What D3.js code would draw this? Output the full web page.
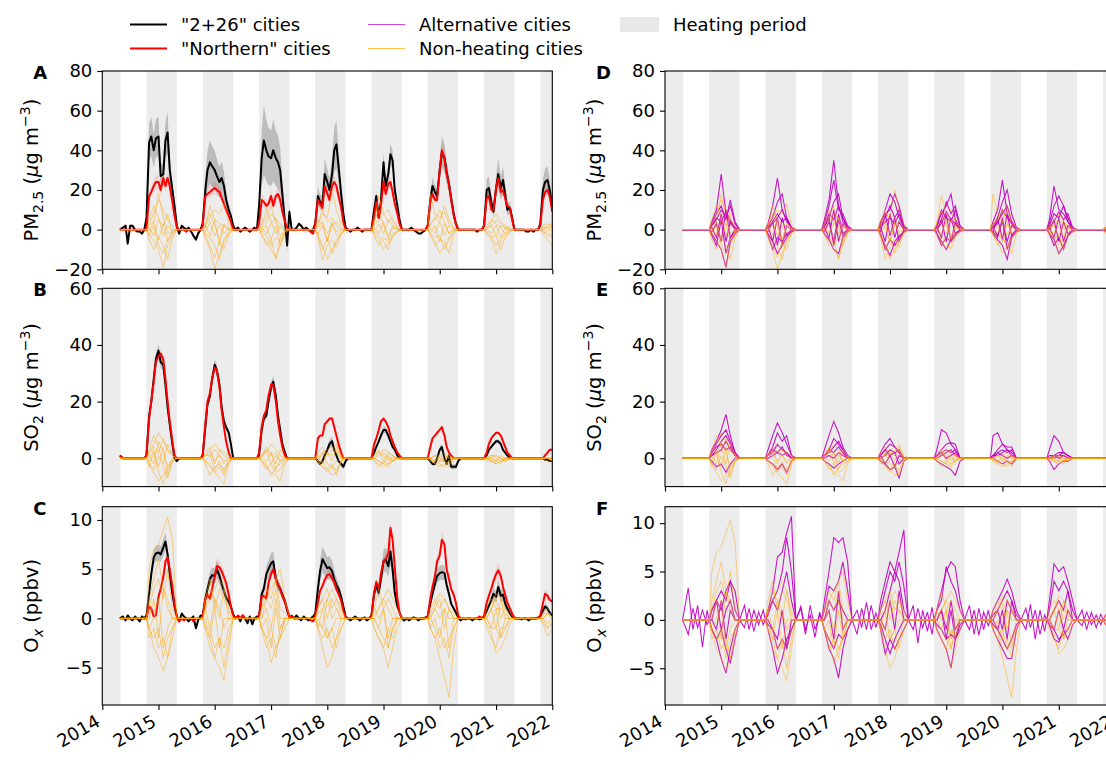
<!DOCTYPE html>
<html>
<head>
<meta charset="utf-8">
<script src="https://cdn.jsdelivr.net/npm/d3@7"></script>
<style>
  body { margin: 0; background: #fff; }
  svg { display: block; font-family: "DejaVu Sans", sans-serif; }
</style>
</head>
<body>
<svg id="chart" width="1106" height="760"></svg>
<script>
// ---- sampling grids (month-day) ----
// main series: each yearly row = off-season values then heating-season values
const OFF_MAIN = ["05-15","06-01","06-15","07-01","07-15","08-01","08-15","09-01","09-15","10-01"];
const SEASON_MAIN = ["10-15","11-01","11-15","12-01","12-15","01-01","01-15","02-01","02-15","03-01","03-15","04-01","04-15","04-30"];
// thin city lines: monthly values inside each heating season
const THIN_MD = ["11-01","12-01","01-01","02-01","03-01","04-01"];
const OFF_THIN = ["06-01","07-01","08-01","09-01","10-01"];
const yearTicks = [2014, 2015, 2016, 2017, 2018, 2019, 2020, 2021, 2022];
const heatYears = [2013, 2014, 2015, 2016, 2017, 2018, 2019, 2020, 2021];

// ---- "2+26" (black) and "Northern" (red) series, rows = 2014..2021 ----
const pm25Black = [
  [0, 1, 2, -7, 2, 2, 0, -1, -1, -2, 0,   6, 44, 47, 40, 46, 47, 27, 28, 45, 49, 30, 20, 12, 2],
  [-2, 2, 1, 0, 1, -1, -3, -5, -2, 0,     3, 20, 30, 34, 32, 30, 27, 24, 26, 22, 15, 10, 7, 2],
  [0, 1, -1, 0, 1, 0, -1, 0, 1, 0,        12, 36, 45, 40, 37, 36, 40, 36, 34, 30, 18, 4, -8, 9],
  [0, 0, 1, 3, 2, 0, 1, 0, -1, 0,         3, 17, 14, 13, 28, 24, 20, 28, 40, 43, 32, 18, 8, 1],
  [0, -1, 0, 0, 1, 0, -1, 0, 0, 0,        0, 10, 17, 6, 14, 34, 22, 28, 38, 35, 20, 12, 5, 0],
  [0, 0, 0, 1, 0, -1, -2, -2, -1, 0,      2, 15, 22, 19, 17, 30, 39, 36, 29, 23, 16, 8, 3, 0],
  [0, 0, 0, 0, 0, 0, 0, -1, 0, 0,         2, 20, 21, 14, 9, 21, 28, 21, 25, 18, 10, 11, 6, 0],
  [0, 0, 0, 0, -1, -1, 0, -1, 0, 0,       3, 20, 24, 25, 20, 12]
];
const pm25Red = [
  [0, 0, 0, 0, 0, 0, 0, 0, 0, 0, 0,       0, 17, 19, 22, 24, 24, 20, 26, 22, 26, 22, 14, 7, 1],
  [0, 0, 0, -1, 0, 0, 0, 0, 0, 0,         2, 17, 18, 19, 20, 21, 20, 19, 16, 13, 10, 7, 4, 0],
  [0, 0, 0, 0, 0, 0, 0, 0, 0, 0,          3, 15, 14, 12, 13, 17, 12, 17, 18, 15, 9, 4, 1, 0],
  [0, 0, 0, 0, 0, 0, 0, 0, -1, -2,        3, 15, 13, 11, 22, 18, 15, 22, 24, 22, 17, 11, 4, 0],
  [0, 0, 0, 0, 0, 0, 0, 0, 0, 0,          0, 7, 14, 6, 12, 24, 18, 23, 24, 19, 13, 8, 3, 0],
  [0, 0, 0, 0, 0, 0, 0, 0, 0, 0,          2, 14, 18, 15, 15, 30, 40, 36, 28, 23, 15, 7, 3, 0],
  [0, 0, 0, 0, 0, 0, 0, 0, 0, 0,          2, 16, 17, 10, 10, 21, 26, 19, 20, 16, 12, 11, 5, 0],
  [0, 0, 0, 0, 0, 0, 0, 0, 0, 0,          2, 15, 19, 20, 17, 9]
];
const so2Black = [
  [1, 0, 0, 0, 0, 0, 0, 0, 0, 0, 0,       1, 15, 20, 28, 35, 38, 34, 33, 26, 18, 12, 5, 0, -1],
  [0, 0, 0, 0, 0, 0, 0, 0, 0, 0,          1, 11, 19, 22, 28, 33, 31, 26, 18, 13, 11, 9, 5, 0],
  [0, 0, 0, 0, 0, 0, 0, 0, 0, 0,          1, 10, 14, 15, 20, 25, 27, 22, 15, 10, 5, 2, 0, 0],
  [0, 0, 0, 0, 0, 0, 0, 0, 0, 0,          0, -1, -2, -1, 1, 3, 5, 6, 3, 1, -1, -2, -3, -1],
  [0, 0, 0, 0, 0, 0, 0, 0, 0, 0,          0, 2, 4, 6, 8, 10, 10, 8, 6, 4, 3, 1, 0, 0],
  [0, 0, 0, 0, 0, 0, 0, 0, 0, 0,          0, -1, -2, -2, 0, 3, 4, 0, -2, 1, -3, -3, -3, -1],
  [0, 0, 0, 0, 0, 0, 0, 0, 0, 0,          0, 1, 3, 4, 5, 6, 6, 5, 3, 2, 1, 0, 0, 0],
  [0, 0, 0, 0, 0, 0, 0, 0, 0, 0,          0, 0, -0.5, -0.5, -1, -1]
];
const so2Red = [
  [1, 0, 0, 0, 0, 0, 0, 0, 0, 0, 0,       1, 14, 20, 27, 34, 36, 37, 35, 28, 20, 13, 6, 1, 0],
  [0, 0, 0, 0, 0, 0, 0, 0, 0, 0,          1, 12, 20, 23, 28, 32, 31, 25, 17, 11, 6, 2, 0, 0],
  [0, 0, 0, 0, 0, 0, 0, 0, 0, 0,          2, 11, 15, 17, 22, 26, 26, 20, 13, 8, 4, 1, 0, 0],
  [0, 0, 0, 0, 0, 0, 0, 0, 0, 0,          0, 7, 8, 8, 12, 13, 14, 14, 11, 8, 5, 2, 0, 0],
  [0, 0, 0, 0, 0, 0, 0, 0, 0, 0,          0, 5, 7, 10, 13, 14, 13, 11, 8, 6, 4, 2, 1, 0],
  [0, 0, 0, 0, 0, 0, 0, 0, 0, 0,          0, 4, 7, 8, 9, 10, 11, 8, 4, 2, 1, 0, 0, 0],
  [0, 0, 0, 0, 0, 0, 0, 0, 0, 0,          0, 2, 5, 7, 8, 9, 9, 8, 6, 4, 2, 1, 0, 0],
  [0, 0, 0, 0, 0, 0, 0, 0, 0, 0,          0, 0, 1, 2, 3, 3]
];
const oxBlack = [
  [0, 0.2, -0.2, 0.3, 0, -0.2, 0.2, 0, -0.3, 0.2, 0,  0.3, 2.5, 4.5, 6.2, 6.6, 6.7, 6.5, 7.2, 7.8, 6.5, 4.5, 2.5, 1.2, 0.2],
  [-0.3, 0.5, 0.2, 0, -0.3, 0, 0.2, -1, -0.2, 0.3,    0.3, 2, 3, 4, 4.4, 4.3, 5, 4.3, 3.5, 2.8, 2.1, 1.7, 1.2, 0.4],
  [0, 0.2, -0.3, 0.3, 0, -0.5, 0.2, -0.6, 0, 0.2,     0.2, 2.5, 3, 4.5, 5, 5.6, 5.8, 4, 3.4, 3, 2.4, 1.8, 0.8, 0.1],
  [0.2, 0, 0.3, 0, -0.2, 0.2, 0, -0.2, 0, 0.2,        0.5, 3, 4.8, 6, 5.6, 5.1, 5.2, 4.8, 4, 3.4, 3, 2.2, 1.2, 0.2],
  [0, -0.2, 0, 0.2, 0, -0.2, 0, 0.1, -0.2, 0,         0.3, 2.5, 3.4, 2.6, 4, 5.8, 6, 5.3, 6.8, 5, 2.6, 1.2, 0.6, 0],
  [-0.2, 0, -0.2, 0, 0.1, 0, -0.2, 0, 0, 0.1,         0.2, 1.5, 2.5, 3.5, 4.3, 4.6, 4.7, 4.6, 3.4, 2.5, 1.5, 1, 0.6, 0.1],
  [-0.2, 0, -0.1, 0, 0, -0.2, 0, 0, -0.1, 0,          0.1, 0.8, 1.3, 1.9, 2.5, 2.2, 3.2, 2.3, 2.4, 1.5, 1, 0.5, 0.2, 0],
  [0, 0, -0.1, 0, 0, -0.2, 0, 0, 0, 0.1,              0.2, 0.8, 1.2, 1, 0.6, 0.3]
];
const oxRed = [
  [0, 0, 0, 0, 0, 0, 0, 0, 0, 0, 0,                   0, 1.2, 1, 0.2, 0.3, 2.2, 3, 4.2, 5.8, 6.2, 5, 3.2, 1.5, 0.2],
  [-0.3, 0, -0.2, 0, 0, 0, -0.3, 0, 0, 0,             0.2, 2, 2.4, 2, 3, 4.3, 5.3, 5.2, 4.8, 4.2, 3.6, 2.4, 1.2, 0.3],
  [0, 0.3, 0, 0.3, 0, 0, 0, 0, 0, 0,                  0.2, 2.2, 2.3, 2, 3.6, 4.5, 5, 4, 3.4, 3, 2.3, 1.6, 1, 0.1],
  [0.3, 0, 0, 0, 0, 0, 0, 0, -0.2, -0.3,              0.3, 1.6, 2.8, 3.3, 3.9, 4.4, 4.5, 4.1, 3.7, 3, 2.5, 1.8, 0.8, 0.1],
  [0, 0, 0, 0, 0, 0, 0, 0, 0, 0,                      0.3, 2.6, 3.7, 3, 4.5, 5.8, 6, 6.6, 9.2, 8, 5.2, 2, 0.6, 0],
  [0, 0, 0, 0, 0, 0, 0, 0, 0, 0,                      0.2, 2, 3.2, 4.3, 5.8, 6.4, 8, 7.5, 5, 4, 3, 2.4, 1.6, 0.3],
  [0, 0, 0, 0, 0, 0, 0, 0, 0.2, 0,                    0.3, 1.6, 2.3, 3, 3.8, 4.5, 4.9, 4.3, 3.2, 2.4, 1.6, 1, 0.5, 0.1],
  [0, 0, 0, 0, 0, 0, 0, 0, 0, 0,                      0.3, 1.5, 2.5, 2.3, 1.9, 1.7]
];
// relative half-width of the shaded ranges, per season (2014..2021)
const pmBlackSpread = [0.21, 0.32, 0.39, 0.28, 0.14, 0.2, 0.28, 0.28];
const pmRedSpread = [0.15, 0.15, 0.2, 0.15, 0.12, 0.1, 0.12, 0.12];
const so2BlackSpread = [0.06, 0.06, 0.08, 0.3, 0.12, 0.3, 0.12, 0.2];
const so2RedSpread = [0.04, 0.04, 0.04, 0.05, 0.05, 0.05, 0.05, 0.05];
const oxBlackSpread = [0.12, 0.18, 0.18, 0.22, 0.2, 0.16, 0.25, 0.3];
const oxRedSpread = [0.1, 0.15, 0.12, 0.12, 0.07, 0.1, 0.15, 0.2];

// ---- non-heating cities (orange), one list of seasons per city ----
const orangePM = [
  [[3, 8, 15, 10, 5, 2], [2, 6, 10, 8, 13, 3], [1, 4, 8, 5, 3, 1], [2, 8, 6, 20, 10, 3], [3, 17, 8, 10, 4, 1], [18, 8, 6, 9, 3, 1], [1, 4, 8, 4, 2, 1], [1, 2, 3]],
  [[-2, -6, -10, -19, -8, -3], [-4, -10, -20, -12, -6, -2], [-3, -6, -10, -14, -8, -2], [-2, -8, -15, -10, -5, -2], [-2, -5, -10, -7, -4, -1], [-3, -6, -12, -8, -4, -1], [-2, -5, -12, -6, -3, -1], [-2, -5, -8]],
  [[5, 12, 6, -3, 2, 0], [3, 8, 2, -5, 3, 1], [2, 10, 4, -2, 2, 0], [5, 3, -6, 2, 4, 1], [4, 10, 2, -3, 1, 0], [3, 5, 10, 4, -2, 0], [2, 5, 3, 1, -2, 0], [2, 3, 1]],
  [[-3, 2, -8, -12, -5, -1], [-2, -4, -8, -15, -5, -1], [-1, -3, -8, -4, -6, -1], [-3, -10, -4, -12, -6, -2], [-1, -3, -6, -10, -3, -1], [-2, -4, -3, -10, -5, -1], [-1, -3, -8, -4, -2, 0], [-1, -3, -4]],
  [[2, 4, 18, 6, -2, 0], [1, 12, 5, 3, 2, 0], [3, 6, 12, 3, 1, 0], [3, 10, 4, 6, 2, 0], [2, 5, 8, 4, 6, 1], [2, 6, 4, 12, 5, 1], [1, 2, 5, 3, 1, 0], [1, 1, 2]],
  [[-5, -10, -4, -8, -15, -4], [-3, -8, -14, -6, -10, -2], [-2, -8, -5, -15, -4, -1], [-4, -15, -8, -5, -9, -2], [-3, -8, -4, -6, -2, -1], [-2, -8, -5, -6, -12, -2], [-2, -4, -3, -10, -4, -1], [-1, -2, -3]],
  [[1, -3, 5, 2, 8, -2], [-1, 4, -3, 2, -2, 1], [1, -2, 3, 6, -3, 0], [1, 4, -2, 3, -1, 0], [-1, 3, -2, 5, 2, 0], [1, -2, 4, -3, 2, 0], [0, 2, -3, 2, 1, 0], [0, 1, -1]],
  [[-1, 4, -5, 3, -6, -1], [2, -3, 5, -8, 2, 0], [-1, 2, -5, 2, -8, -1], [-2, 2, -6, 4, -3, -1], [1, -2, 4, -5, 2, 0], [-1, 2, -6, 3, -2, 0], [0, -2, 2, -4, 1, 0], [0, -1, 1]]
];
const orangeSO2 = [
  [[2, 5, 9, 6, 3, 1], [1, 3, 5, 3, 2, 1], [1, 2, 5, 3, 1, 0], [1, 2, 3, 4, 2, 0], [1, 2, 3, 2, 1, 0], [0, 1, 1, 0, 1, 0], [0, 1, 1, 0, 0, 0], [0, 0, 0]],
  [[-2, -5, -8, -6, -3, -1], [-1, -3, -5, -7, -9, -2], [-1, -3, -5, -6, -8, -2], [-1, -3, -4, -6, -5, -1], [-1, -2, -3, -2, -1, 0], [-1, -2, -3, -2, -1, 0], [-1, -1, -2, -1, -1, 0], [0, -1, -1]],
  [[3, 8, 4, -2, 5, 1], [2, 4, -2, 3, 1, 0], [1, 4, 2, -2, 3, 0], [2, 4, 1, 3, 5, 1], [1, 3, -1, 2, 1, 0], [0, 1, -1, 1, 0, 0], [0, 1, 0, -1, 0, 0], [0, 0, 0]],
  [[-3, 2, -5, -9, -4, -1], [-2, -6, -3, -2, -4, -1], [-1, -2, -6, -3, -2, -1], [-2, -1, -4, -2, -6, -1], [-1, -3, -1, -2, 0, 0], [-1, -1, -2, -3, -1, 0], [0, -1, -2, -1, 0, 0], [0, 0, -1]],
  [[1, -2, 6, 2, -3, 0], [1, 2, -1, 1, -2, 0], [0, 3, -2, 1, -1, 0], [1, -2, 2, -1, 4, 0], [0, 2, 1, -1, 1, 0], [0, -1, 1, 2, 0, 0], [0, 0, 1, 0, -1, 0], [0, 0, 0]],
  [[-1, 3, -3, 4, -6, -1], [-1, 1, -4, -1, -5, -1], [0, -1, 2, -4, -1, 0], [-1, 2, -2, -3, -1, 0], [0, -1, -2, 1, -1, 0], [0, -1, 0, -1, -2, 0], [0, 0, -1, 0, -1, 0], [0, 0, 0]],
  [[2, 4, 2, 7, 3, 1], [1, 1, 3, 1, -1, 0], [1, 3, 1, 2, -1, 0], [0, 1, 2, 1, 3, 0], [0, 1, 2, 0, -1, 0], [0, 1, 0, -1, 1, 0], [0, 0, -1, 1, 0, 0], [0, 0, 0]],
  [[-2, -4, 1, -3, -7, -1], [-1, -2, -5, -3, -6, -1], [-1, -4, -2, -5, -4, -1], [-1, -3, -5, -3, -4, -1], [0, -1, -2, -3, -1, 0], [0, -2, -1, -1, -3, 0], [0, -1, -1, -2, 0, 0], [0, 0, -1]]
];
const orangeOx = [
  [[5, 7, 7.5, 9, 10.3, 8], [1, 2, 3, 4, 3, 1], [1, 2, 3, 4, 5, 2], [0.5, 1, 2, 3, 2, 1], [0.5, 1, 2, 3, 2, 1], [0.5, 1.5, 2.5, 2, 1, 0.5], [0.5, 1, 2.5, 2, 1, 0.5], [0.3, 1, 0.5]],
  [[-1, -3, -4, -5.3, -4, -2], [-1, -3, -4, -5, -6.3, -3], [-1, -2, -4.5, -3, -2, -1], [-1, -3, -5, -4, -2, -1], [-1, -2, -3, -5, -3, -1], [-1, -2, -4, -6, -8, -3], [-0.5, -1.5, -3.5, -3, -2, -0.5], [-0.5, -1.8, -1]],
  [[1, 3, 4, 2, 5, 1], [2, 4, 1, 3, 2, 0.5], [1, 3, 2, 4, 1, 0.5], [1, 2, 3, 1, 2, 0.5], [1, 3, 1, 2, 1, 0], [1, 2, 1, 2, 1, 0], [1, 2, 1, 1, 0.5, 0], [0.5, 0.5, 0]],
  [[-2, -1, -3, -2, -4, -1], [-1, -2, -4, -2, -3, -1], [-1, -3, -2, -4, -1, 0], [-1, -2, -1, -3, -2, 0], [-1, -2, -3, -1, -2, 0], [-1, -2, -1, -3, -2, -1], [-1, -2, -3, -1, -1, 0], [-0.5, -1, -0.5]],
  [[0, 2, -2, 3, 1, 0], [1, -1, 2, 0, 3, 0], [0, 1, -1, 2, -1, 0], [0, -1, 2, 0, 1, 0], [1, 0, 1, -2, 0, 0], [0, 1, 2, -1, 1, 0], [0, 1, -1, 2, 0, 0], [0, 0.5, 0]],
  [[-1, 0, 2, -3, -1, 0], [0, -2, 1, -3, 0, 0], [-1, 0, -3, 1, -2, 0], [-1, 1, -2, -1, 0, 0], [0, -1, 1, -3, -1, 0], [-1, 0, -2, 1, -3, 0], [0, -1, 1, -2, 0, 0], [0, -0.5, 0]],
  [[2, 4, 6, 3, 2, 0], [1, 3, 2, 1, -1, 0], [0, 2, 1, 3, 0, 0], [1, 2, 0, 2, 1, 0], [0, 1, 2, 1, 0, 0], [0, 1, 0, 1, 0, 0], [0, 1, 2, 0, 1, 0], [0, 0.5, 0.5]],
  [[-1, -2, -1, -4, -2, -1], [-1, -1, -3, -2, -5, -2], [-1, -2, -1, -3, -2, 0], [-0.5, -1, -2, -1, -3, -1], [0, -1, -2, -3, -1, 0], [0, -1, -3, -2, -4, -1], [0, -1, -1, -2, -1, 0], [0, -1, -0.5]]
];

// ---- alternative cities (magenta) ----
const magentaPM = [
  [[4, 10, 28, 8, 3, 1], [3, 12, 26, 10, 4, 1], [5, 15, 35, 12, 4, 1], [3, 10, 18, 14, 6, 1], [2, 8, 12, 18, 5, 1], [4, 10, 25, 8, 3, 1], [5, 22, 10, 8, 4, 1], [1, 2, 2]],
  [[-2, -6, -10, -19, -6, -2], [-2, -6, -12, -8, -4, -1], [-2, -5, -10, -12, -4, -1], [-3, -8, -13, -6, -3, -1], [-2, -6, -10, -5, -2, -1], [-2, -5, -8, -15, -4, -1], [-2, -5, -12, -8, -3, -1], [-1, -1, -1]],
  [[3, 8, 12, 5, 15, 4], [2, 6, 14, 18, 6, 1], [3, 12, 25, 10, 8, 2], [4, 8, 10, 18, 12, 2], [2, 5, 14, 8, 12, 2], [2, 6, 14, 20, 8, 1], [3, 12, 17, 12, 6, 1], [0, 1, 1]],
  [[-3, -8, 5, -12, -4, -1], [-3, -10, -4, -6, -2, -1], [1, 6, -8, 5, -3, 0], [-2, -10, -5, -8, -4, -1], [-2, -8, -4, -6, -3, 0], [-1, -4, 6, -10, -3, 0], [-2, -8, -4, -10, -3, 0], [0, -1, -1]],
  [[2, 5, 10, 6, 12, 3], [1, 4, 8, 4, 6, 1], [2, 6, 14, 18, 6, 1], [2, 6, 12, 6, 10, 1], [2, 10, 6, 4, 10, 1], [1, 4, 8, 12, 4, 1], [2, 8, 6, 12, 4, 0], [0, 1, 0]],
  [[1, -4, 8, -6, 4, 0], [2, -6, 6, -8, 2, 0], [-1, 4, -6, 8, -2, 0], [1, -6, 8, -4, 4, 0], [-1, 5, -6, 6, -2, 0], [1, -3, 4, -6, 2, 0], [1, -4, 6, -6, 2, 0], [0, 0, 0]],
  [[-1, 3, -6, 10, -4, 0], [-1, 4, -8, 6, -3, 0], [1, -4, 10, -6, 3, 0], [-1, 8, -3, 6, -6, 0], [1, -4, 8, -6, 4, 0], [-1, 6, -5, 8, -3, 0], [0, 5, -6, 4, -2, 0], [0, 0, 0]],
  [[2, 6, 4, 9, 5, 1], [1, 3, 6, 10, 5, 1], [2, 8, 5, 12, 6, 1], [1, 4, 6, 3, 8, 1], [1, 3, 9, 5, 3, 0], [1, 3, 10, 6, 3, 0], [1, 4, 9, 5, 8, 1], [0, 1, 1]]
];
const magentaSO2 = [
  [[3, 6, 10, 15.5, 8, 2], [3, 8, 12.5, 9, 5, 1], [3, 8, 13, 9, 4, 1], [2, 5, 7, 4, 2, 0], [3, 10, 9, 5, 3, 0], [8, 9, 5, 3, 2, 0], [3, 8, 6, 2, 1, 0], [0, 0, 0]],
  [[2, 5, 8, 10, 6, 2], [1, 4, 9, 6, 8, 1], [1, 3, 7, 5, 3, 0], [1, 3, 5, 4, 2, 0], [1, 3, 5, 5.5, 5, 0], [1, 3, 5, 4, 4, 0], [1, 1, 2, 2, 1, 0], [0, 0, 0]],
  [[1, 3, 6, 8, 5, 1], [1, 2, 5, 3, 2, 0], [1, 2, 4, 6, 3, 0], [0, 1, 3, 2, 3, 0], [1, 2, 3, 2, 3, 0], [0, 2, 3, 2, 3, 0], [0, 1, 1, 2, 1, 0], [0, 0, 0]],
  [[-1, -3, -2, -5, -2, 0], [-1, -2, -4, -2, -5, -1], [-1, -2, -3.5, -2, -1, 0], [-1, -2, -4, -3, -7, -1], [-1, -2, -3, -4, -6, -1], [0, -1, -2, -1, -2, 0], [-1, -4, -2, -1, -1, 0], [0, 0, 0]],
  [[2, 4, 5, 3, 4, 1], [1, 3, 2, 4, 1, 0], [1, 3, 2, 4, 2, 0], [1, -2, 1, -3, 1, 0], [1, 2, 0, 1, 2, 0], [1, 2, 1, 0, 1, 0], [0, 1, 0, 1, 0, 0], [0, 0, 0]],
  [[1, 2, 3, 6, 3, 1], [0, 1, 2, 1, 2, 0], [0, 1, 0, 2, 1, 0], [1, 3, 1, 2, -2, 0], [0, 1, 2, 3, 1, 0], [1, 1, 2, 3, 1, 0], [0, 0, 1, 1, 0, 0], [0, 0, 0]]
];
const magentaOx = [
  [[1, 2, 3, 2, 4, 3], [1, 3, 6.5, 7, 9, 10.7], [2, 5, 8.5, 8, 8.5, 6], [2, 4, 6, 5, 7, 9.3], [1, 3, 5, 6, 5.5, 2], [1, 2, 3, 4.2, 3, 1], [2, 5.8, 5, 5.5, 4, 2], [0.5, 1, 0.5]],
  [[-1, -2, -4, -5.5, -3, -1], [-1, -3, -5.5, -4, -2, -1], [-1, -3, -4, -6, -3, -1], [-1, -3.5, -2, -3, -2, -1], [-1, -2, -3, -5, -2, -1], [-1, -2, -3, -4, -4, -1], [-0.5, -2, -2.3, -1, -2, -0.5], [-0.5, -0.5, 0]],
  [[0, 2, 1, 3, 4, 1], [0.5, 2, 3, 5, 8.5, 5], [1, 3.5, 3, 4, 6, 3], [1, 3, 5, 4, 6, 3.5], [1, 2, 5.5, 4, 3, 1], [0.5, 1, 2, 3, 2, 0.5], [1, 4, 3, 4, 3, 1], [0, 0.5, 0]],
  [[-1, -2, -1, -3, -4.5, -2], [-0.5, -1, -3, -2, -3, -1], [-1, -2, -3, -1.5, -2, -1], [-0.5, -2, -3.5, -2, -1, 0], [-0.5, -1, -2, -1.5, -2, -0.5], [-0.5, -1, -2, -3, -2, -0.5], [-0.5, -1, -2, -1.5, -1, 0], [0, 0, 0]],
  [[1, 2, -1, 1, 2, 0], [1, 2, 1, 3, 5, 2], [0, 2, 1, 2, 1, 0], [0, 1, 3, 5, 4, 1], [0, 1, -1, 2, -1, 0], [0, 1, -1, 2, 1, 0], [0, 1, 2, 1, 3, 0], [0, 0, 0]],
  [[0, -1, 2, -2, 1, 0], [0, -1, -2, 1, -3, 0], [0, 1, -2, 3, -1, 0], [0, -1, 2, -1, 3, 0], [0, 1, -2, 1, -2, 0], [0, -1, 1, -2, 2, 0], [0, -1, 1, -1, 1, 0], [0, 0, 0]]
];
// off-season wiggles of two alternative cities in panel F (Jun..Oct each year)
const magentaOxOff = [
  null, null, null, null,
  [[3.3, -1, 1.5, -2.8, 1], [1.5, -1, 1, -0.5, 1], [1.2, -1.5, 1.5, -1, 0.5], [-1.5, 1.2, -1, 1.5, -0.8], [1.5, -2.4, 1, -1.2, 1.3], [1.5, -1.5, 1.2, -1, 1], [-1, 1.6, -2, 1, -1.2], [1, -1, 0.8, -0.8, 0.6]],
  [[-1.5, 1.2, -0.8, 1, -0.5], [-0.8, 1.2, -1.2, 0.8, -0.5], [1.4, -1, 0.5, -1.8, 0.8], [1, -0.8, 1.8, -1, 0.7], [-1, 1.2, -0.8, 0.8, -1.5], [-1, 1, -1.6, 0.8, -0.6], [1.2, -0.8, 1, -1.5, 0.5], [-0.6, 0.8, -0.5, 0.5, -0.5]]
];

// ---- layout ----
const plotW = 450, plotH = 198.3;
const colLeft = [102.3, 665];
const rowTop = [71, 288.3, 506.7];
const FS = 18;      // tick and legend text
const LFS = 19.5;   // axis titles

const day = (y, md) => new Date(Date.UTC(y, +md.slice(0, 2) - 1, +md.slice(3, 5)));
const x = d3.scaleUtc().domain([day(2014, "01-01"), day(2022, "01-01")]).range([0, plotW]);

function mainPoints(rows) {
  const pts = [];
  rows.forEach((row, i) => {
    const yr = 2014 + i;
    const offMd = (i === 0 ? ["04-25"] : []).concat(OFF_MAIN);
    const dates = offMd.map(md => day(yr, md))
      .concat(SEASON_MAIN.map(md => day(+md.slice(0, 2) >= 10 ? yr : yr + 1, md)));
    row.forEach((v, k) => pts.push({ d: dates[k], v: v, s: i }));
  });
  return pts;
}

function thinPoints(seasons, off) {
  const pts = [{ d: day(2014, "04-25"), v: 0 }];
  seasons.forEach((s, i) => {
    const yr = 2014 + i;
    if (off) off[i].forEach((v, k) => pts.push({ d: day(yr, OFF_THIN[k]), v: v }));
    pts.push({ d: day(yr, "10-15"), v: 0 });
    s.forEach((v, k) => pts.push({ d: day(k < 2 ? yr : yr + 1, THIN_MD[k]), v: v }));
    if (s.length === THIN_MD.length) pts.push({ d: day(yr + 1, "04-30"), v: 0 });
  });
  return pts;
}

const panels = [
  { key: "A", col: 0, row: 0, dom: [-20, 80], ticks: [-20, 0, 20, 40, 60, 80], label: "pm",
    black: pm25Black, red: pm25Red, bs: pmBlackSpread, rs: pmRedSpread, orange: orangePM },
  { key: "B", col: 0, row: 1, dom: [-10, 60], ticks: [0, 20, 40, 60], label: "so2",
    black: so2Black, red: so2Red, bs: so2BlackSpread, rs: so2RedSpread, orange: orangeSO2 },
  { key: "C", col: 0, row: 2, dom: [-8.8, 11.35], ticks: [-5, 0, 5, 10], label: "ox",
    black: oxBlack, red: oxRed, bs: oxBlackSpread, rs: oxRedSpread, orange: orangeOx },
  { key: "D", col: 1, row: 0, dom: [-20, 80], ticks: [-20, 0, 20, 40, 60, 80], label: "pm",
    magenta: magentaPM, orange: orangePM },
  { key: "E", col: 1, row: 1, dom: [-10, 60], ticks: [0, 20, 40, 60], label: "so2",
    magenta: magentaSO2, orange: orangeSO2 },
  { key: "F", col: 1, row: 2, dom: [-8.8, 11.7], ticks: [-5, 0, 5, 10], label: "ox",
    magenta: magentaOx, magentaOff: magentaOxOff, orange: orangeOx }
];

const svg = d3.select("#chart");
const defs = svg.append("defs");

function writeLabel(t, kind) {
  if (kind === "pm") {
    t.append("tspan").text("PM");
    t.append("tspan").attr("dy", 5).attr("font-size", 14).text("2.5");
    t.append("tspan").attr("dy", -5).text(" (");
  } else if (kind === "so2") {
    t.append("tspan").text("SO");
    t.append("tspan").attr("dy", 5).attr("font-size", 14).text("2");
    t.append("tspan").attr("dy", -5).text(" (");
  } else {
    t.append("tspan").text("O");
    t.append("tspan").attr("dy", 5).attr("font-size", 14).attr("font-style", "italic").text("x");
    t.append("tspan").attr("dy", -5).text(" (ppbv)");
    return;
  }
  t.append("tspan").attr("font-style", "italic").text("\u03bc");
  t.append("tspan").text("g m");
  t.append("tspan").attr("dy", -8).attr("font-size", 14).text("\u22123");
  t.append("tspan").attr("dy", 8).text(")");
}

panels.forEach(p => {
  const left = colLeft[p.col], top = rowTop[p.row];
  const y = d3.scaleLinear().domain(p.dom).range([plotH, 0]);
  const g = svg.append("g").attr("transform", `translate(${left},${top})`);

  defs.append("clipPath").attr("id", "clip" + p.key)
    .append("rect").attr("width", plotW).attr("height", plotH);
  const body = g.append("g").attr("clip-path", `url(#clip${p.key})`);

  // heating periods
  body.selectAll("rect.heat").data(heatYears).join("rect")
    .attr("class", "heat")
    .attr("x", d => x(day(d, "10-15")))
    .attr("width", d => x(day(d + 1, "04-30")) - x(day(d, "10-15")))
    .attr("y", 0).attr("height", plotH)
    .attr("fill", "#ececec");

  const line = d3.line().x(d => x(d.d)).y(d => y(d.v));

  if (p.black) {
    const bk = mainPoints(p.black), rd = mainPoints(p.red);
    const band = s => d3.area().x(d => x(d.d))
      .y0(d => y(d.v - s[d.s] * Math.abs(d.v)))
      .y1(d => y(d.v + s[d.s] * Math.abs(d.v)));
    body.append("path").attr("d", band(p.bs)(bk)).attr("fill", "#000").attr("fill-opacity", 0.2);
    body.append("path").attr("d", band(p.rs)(rd)).attr("fill", "#ff0000").attr("fill-opacity", 0.1);
    body.append("path").attr("d", line(bk)).attr("fill", "none")
      .attr("stroke", "#000").attr("stroke-width", 2).attr("stroke-linejoin", "round");
    body.append("path").attr("d", line(rd)).attr("fill", "none")
      .attr("stroke", "#ff0000").attr("stroke-width", 2).attr("stroke-linejoin", "round");
  }
  if (p.magenta) {
    body.selectAll("path.mag").data(p.magenta).join("path")
      .attr("class", "mag")
      .attr("d", (s, i) => line(thinPoints(s, p.magentaOff ? p.magentaOff[i] : null)))
      .attr("fill", "none").attr("stroke", "#c000c0").attr("stroke-opacity", 0.9)
      .attr("stroke-width", 1.1);
  }
  body.selectAll("path.org").data(p.orange).join("path")
    .attr("class", "org")
    .attr("d", s => line(thinPoints(s, null)))
    .attr("fill", "none").attr("stroke", "#ffa500").attr("stroke-opacity", 0.45)
    .attr("stroke-width", 1);

  // frame
  g.append("rect").attr("width", plotW).attr("height", plotH)
    .attr("fill", "none").attr("stroke", "#000").attr("stroke-width", 1.1);

  // y axis
  const ya = g.append("g").call(d3.axisLeft(y).tickValues(p.ticks).tickSize(5).tickPadding(5)
    .tickFormat(d3.format("d")));
  ya.select(".domain").remove();
  ya.selectAll("line").attr("stroke", "#000").attr("stroke-width", 1.1);
  ya.selectAll("text").attr("font-size", FS).attr("font-family", "DejaVu Sans").attr("fill", "#000");

  // x axis
  const xa = g.append("g").attr("transform", `translate(0,${plotH})`)
    .call(d3.axisBottom(x).tickValues(yearTicks.map(v => day(v, "01-01"))).tickSize(5).tickFormat(""));
  xa.select(".domain").remove();
  xa.selectAll("line").attr("stroke", "#000").attr("stroke-width", 1.1);
  if (p.row === 2) {
    g.selectAll("text.xt").data(yearTicks).join("text")
      .attr("class", "xt")
      .attr("transform", v => `translate(${x(day(v, "01-01")) - 1},${plotH + 20}) rotate(-30)`)
      .attr("text-anchor", "end").attr("font-size", FS).attr("fill", "#000")
      .text(v => v);
  }

  // axis label
  const lab = svg.append("text")
    .attr("transform", `translate(${left - 64},${top + plotH / 2}) rotate(-90)`)
    .attr("text-anchor", "middle").attr("font-size", LFS).attr("fill", "#000");
  writeLabel(lab, p.label);

  // panel letter
  svg.append("text").attr("x", left - 69).attr("y", top + 8)
    .attr("font-size", FS).attr("font-weight", "bold").attr("fill", "#000").text(p.key);
});

// ---- legend ----
const legendLines = [
  { x: 130, y: 24.5, color: "#000", w: 2.2, op: 1, text: "\"2+26\" cities" },
  { x: 130, y: 48.5, color: "#ff0000", w: 2.2, op: 1, text: "\"Northern\" cities" },
  { x: 368, y: 24.5, color: "#c000c0", w: 1.1, op: 0.7, text: "Alternative cities" },
  { x: 368, y: 48.5, color: "#ffa500", w: 1.1, op: 0.7, text: "Non-heating cities" }
];
const lg = svg.append("g");
lg.selectAll("line").data(legendLines).join("line")
  .attr("x1", d => d.x).attr("x2", d => d.x + 37).attr("y1", d => d.y).attr("y2", d => d.y)
  .attr("stroke", d => d.color).attr("stroke-width", d => d.w).attr("stroke-opacity", d => d.op);
lg.selectAll("text").data(legendLines).join("text")
  .attr("x", d => d.x + 51).attr("y", d => d.y + 6.5)
  .attr("font-size", FS).attr("fill", "#000").text(d => d.text);
lg.append("rect").attr("x", 620).attr("y", 17).attr("width", 39).attr("height", 15).attr("fill", "#e8e8e8");
lg.append("text").attr("x", 673).attr("y", 31).attr("font-size", FS).attr("fill", "#000").text("Heating period");
</script>
</body>
</html>
